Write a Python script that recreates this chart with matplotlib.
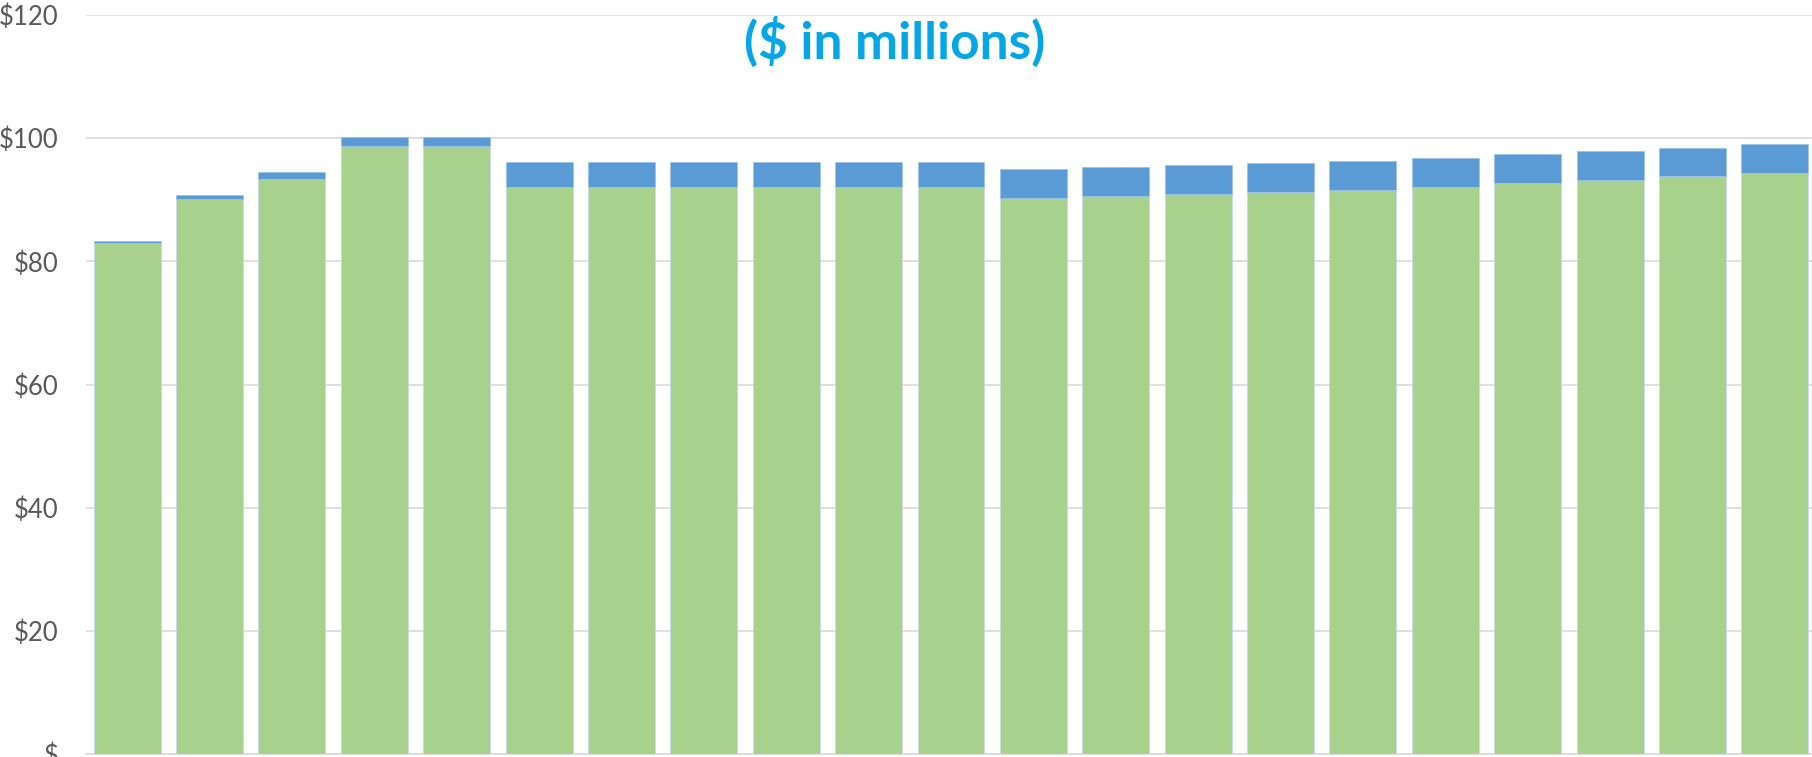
import matplotlib
matplotlib.use("Agg")
import matplotlib.pyplot as plt
import numpy as np

# ---- data ($ in millions) ----
categories = [f"P{i}" for i in range(1, 22)]
base_values = [83.05, 90.1, 93.45, 98.8, 98.8, 92.1, 92.1, 92.1, 92.1, 92.1, 92.1,
               90.3, 90.6, 90.9, 91.3, 91.65, 92.15, 92.7, 93.25, 93.8, 94.4]
total_values = [83.3, 90.85, 94.55, 100.25, 100.25, 96.1, 96.1, 96.1, 96.1, 96.1, 96.1,
                95.0, 95.3, 95.6, 95.9, 96.3, 96.8, 97.35, 97.9, 98.45, 99.0]
top_values = [t - b for t, b in zip(total_values, base_values)]
y_ticks = [0, 20, 40, 60, 80, 100, 120]
y_tick_labels = ["$", "$20", "$40", "$60", "$80", "$100", "$120"]
title_text = "($ in millions)"

W, H = 1812, 757
fig = plt.figure(figsize=(W / 100, H / 100), dpi=100)
left = 86 / W
right = 1816 / W
bottom = 3 / H
top = (H - 15) / H
ax = fig.add_axes([left, bottom, right - left, top - bottom])

x = np.arange(len(categories))
bw = 67 / 82.4
green = "#A9D18E"
blue = "#5B9BD5"
ax.bar(x, base_values, width=bw, color=green, edgecolor="#C9DCEB", linewidth=0.6, zorder=3)
ax.bar(x, top_values, bottom=base_values, width=bw, color=blue, edgecolor="#9DC3E6",
       linewidth=0.6, zorder=3)

ax.set_xlim(-0.5, len(categories) - 0.5)
ax.set_ylim(0, 120)
ax.set_yticks(y_ticks)
ax.set_yticklabels(y_tick_labels)
ax.set_xticks([])
for s in ["top", "right", "left"]:
    ax.spines[s].set_visible(False)
ax.spines["bottom"].set_color("#D9D9D9")
ax.spines["bottom"].set_linewidth(1.2)
ax.grid(axis="y", color="#D9D9D9", linewidth=1.2, zorder=0)
ax.tick_params(axis="y", length=0, pad=20, labelsize=18.5, labelcolor="#595959")
for lab in ax.get_yticklabels():
    lab.set_family("Lato")

fig.text(895 / W, 1 - 42 / H, title_text, ha="center", va="center",
         fontsize=37, fontweight="bold", color="#05A6E6", family="Lato")

fig.savefig("out.png", dpi=100)
